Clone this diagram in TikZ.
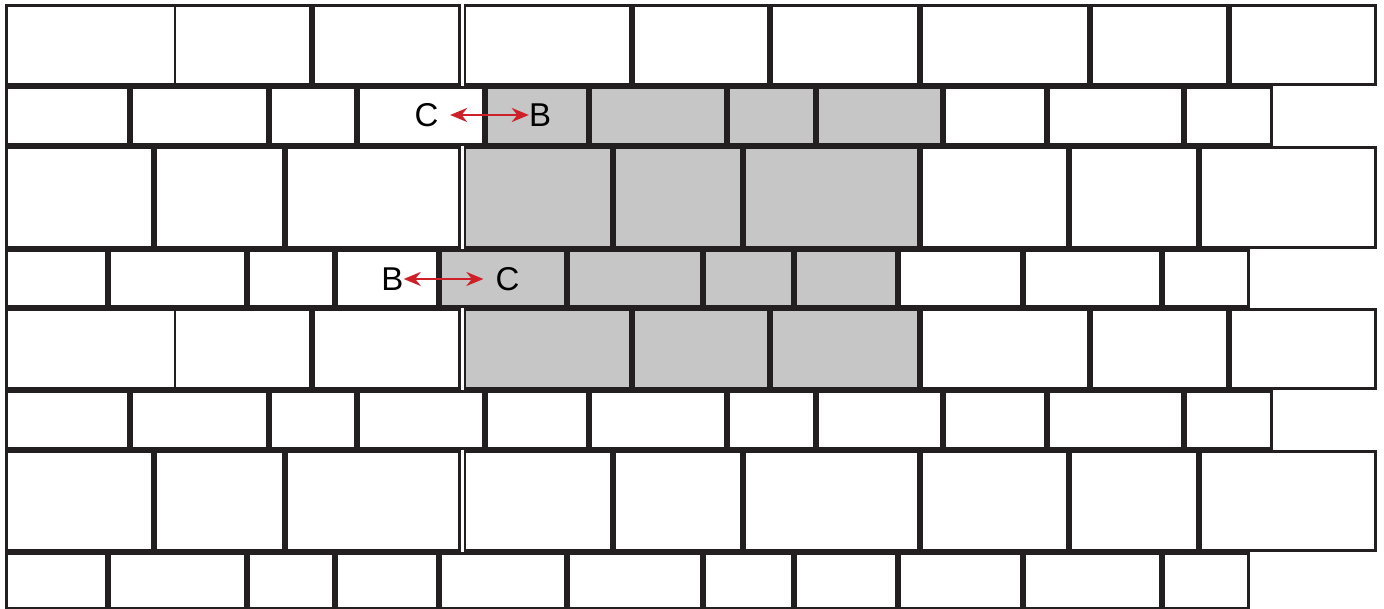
\documentclass[tikz,border=0pt]{standalone}
\usepackage{fontspec}
\newfontfamily\labfont{Liberation Sans}
\usetikzlibrary{arrows.meta}
\definecolor{joint}{RGB}{35,31,32}
\definecolor{shade}{RGB}{198,198,198}
\definecolor{arrred}{RGB}{206,32,41}
\newcommand\brickrow[3]{%
  \foreach \xa/\xb/\f in {#3} {
    \draw[brick,fill=\f] (\xa+1.3,#1+1.3) rectangle (\xb-1.3,#2-1.3);
  }%
}
\begin{document}
\begin{tikzpicture}[x=1pt,y=-1pt,
  brick/.style={draw=joint,line width=2.6pt},
  lab/.style={font=\labfont\fontsize{33}{40}\selectfont,inner sep=0pt,text=black},
  dimarrow/.style={draw=arrred,line width=2.6pt,
    arrows={Stealth[length=17pt,width=14pt,inset=5.5pt]-Stealth[length=17pt,width=14pt,inset=5.5pt]}}]
\fill[white] (0,0) rectangle (1384,609);
\useasboundingbox (0,0) rectangle (1384,609);
% row 1
\brickrow{4}{86}{5/176.3/white,173.7/312/white,312/461/white,463.5/632/white,632/770/white,770/920/white,920/1090/white,1090/1229/white,1229/1377/white}
% row 2
\brickrow{86}{146}{5/130/white,130/269/white,269/357/white,357/485/white,485/589/shade,589/727/shade,727/816/shade,816/943/shade,943/1047/white,1047/1184/white,1184/1273/white}
% row 3
\brickrow{146}{249}{5/154/white,154/285/white,285/461/white,463.5/613/shade,613/743/shade,743/920/shade,920/1069/white,1069/1199/white,1199/1377/white}
% row 4
\brickrow{249}{308}{5/108/white,108/247/white,247/335/white,335/439/white,439/567/shade,567/703/shade,703/794/shade,794/898/shade,898/1023/white,1023/1162/white,1162/1249.5/white}
% row 5
\brickrow{308}{390}{5/176.3/white,173.7/312/white,312/461/white,463.5/632/shade,632/770/shade,770/920/shade,920/1090/white,1090/1229/white,1229/1377/white}
% row 6
\brickrow{390}{450}{5/130/white,130/269/white,269/357/white,357/485/white,485/589/white,589/727/white,727/816/white,816/943/white,943/1047/white,1047/1184/white,1184/1273/white}
% row 7
\brickrow{450}{552}{5/154/white,154/285/white,285/461/white,463.5/613/white,613/743/white,743/920/white,920/1069/white,1069/1199/white,1199/1377/white}
% row 8
\brickrow{552}{610}{5/108/white,108/247/white,247/335/white,335/439/white,439/567/white,567/703/white,703/794/white,794/898/white,898/1023/white,1023/1162/white,1162/1249.5/white}
% labels and arrows
\node[lab] (c1) at (426.5,115) {C};
\node[lab] (b1) at (540,115) {B};
\node[lab] (b2) at (392.5,279) {B};
\node[lab] (c2) at (507.5,279) {C};
\draw[dimarrow,shorten <=11.5pt] (c1) -- (b1);
\draw[dimarrow,shorten <=12pt] (c2) -- (b2);
\end{tikzpicture}
\end{document}
